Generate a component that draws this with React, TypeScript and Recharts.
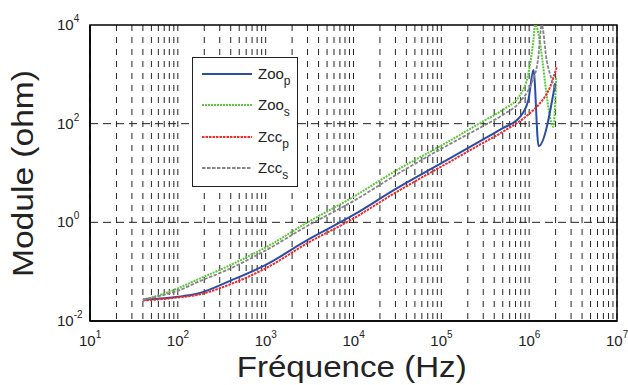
import React from "react";
import {
  LineChart,
  Line,
  XAxis,
  YAxis,
  CartesianGrid,
  ReferenceLine,
  ReferenceArea,
  Legend,
} from "recharts";

// Zoo_p (blue, solid)
const zoopFreq = [40, 70, 100, 170, 400, 1000, 3000, 10000, 30000, 100000, 300000, 500000, 790000, 980000, 1120000, 1280000, 1980000];
const zoopMod = [0.027, 0.029, 0.031, 0.036, 0.066, 0.137, 0.44, 1.41, 4.7, 15.8, 48, 81, 139, 304, 1230, 35, 660];

// Zoo_s (green, dotted)
const zoosFreq = [40, 70, 100, 170, 400, 1000, 3000, 10000, 30000, 100000, 300000, 500000, 790000, 980000, 1120000, 1170000, 1890000, 2030000];
const zoosMod = [0.027, 0.036, 0.046, 0.07, 0.137, 0.31, 1.0, 3.3, 11, 36, 112, 190, 384, 1050, 5000, 10000, 87, 900];

// Zcc_p (red, dotted)
const zccpFreq = [40, 70, 100, 170, 400, 1000, 3000, 10000, 30000, 100000, 300000, 470000, 1120000, 1330000, 1740000, 2070000];
const zccpMod = [0.026, 0.028, 0.03, 0.034, 0.056, 0.117, 0.38, 1.2, 4.0, 13.5, 41, 64, 190, 260, 566, 1440];

// Zcc_s (gray, dashed)
const zccsFreq = [40, 70, 100, 170, 400, 1000, 3000, 10000, 30000, 100000, 300000, 500000, 790000, 1060000, 1260000, 1390000, 1580000, 1810000, 1980000];
const zccsMod = [0.027, 0.034, 0.041, 0.062, 0.117, 0.27, 0.85, 2.7, 9, 31, 90, 150, 282, 660, 1960, 10000, 1960, 780, 490];

const xMajorTicks = [10, 100, 1000, 10000, 100000, 1000000, 10000000];
const xMinorMultipliers = [2, 3, 4, 5, 6, 7, 8, 9];
const yMajorTicks = [0.01, 1, 100, 10000];
const yGridLines = [1, 100];

const legendItems = [
  { base: "Zoo", sub: "p", color: "#2a4ea8", dash: undefined },
  { base: "Zoo", sub: "s", color: "#5cc63a", dash: "2 1" },
  { base: "Zcc", sub: "p", color: "#ee2a2a", dash: "2.5 1" },
  { base: "Zcc", sub: "s", color: "#858585", dash: "3.5 1.5" },
];

const toPoints = (freq: number[], mod: number[]) =>
  freq.map((f, i) => ({ f, v: mod[i] }));

const xTicks: number[] = [];
xMajorTicks.forEach((t, i) => {
  xTicks.push(t);
  if (i < xMajorTicks.length - 1) xMinorMultipliers.forEach((m) => xTicks.push(t * m));
});

const FONT = "'Liberation Sans', Arial, Helvetica, sans-serif";

const XTick = (props: any) => {
  const { x, y, payload } = props;
  const exp = Math.round(Math.log10(payload.value));
  if (!xMajorTicks.includes(payload.value)) return <g />;
  return (
    <text x={x - 11} y={y + 25} fontFamily={FONT} fontSize={15} fill="#222">
      <tspan>10</tspan>
      <tspan dy={-8} fontSize={10}>{exp}</tspan>
    </text>
  );
};

const YTick = (props: any) => {
  const { y, payload } = props;
  const exp = Math.round(Math.log10(payload.value));
  return (
    <text x={57} y={y + 5} fontFamily={FONT} fontSize={15} fill="#222">
      <tspan>10</tspan>
      <tspan dy={-8} fontSize={10}>{exp}</tspan>
    </text>
  );
};

const LegendBox = () => (
  <div
    style={{
      width: 106,
      height: 130,
      border: "1.5px solid #222",
      background: "#fff",
      boxSizing: "border-box",
      fontFamily: FONT,
      position: "relative",
    }}
  >
    {legendItems.map((it, i) => (
      <div key={i} style={{ position: "absolute", left: 8, top: 6 + i * 31.3, height: 24 }}>
        <svg width={52} height={20} style={{ position: "absolute", left: 0, top: 0 }}>
          <line x1={1} y1={10} x2={51} y2={10} stroke={it.color} strokeWidth={2} strokeDasharray={it.dash} />
        </svg>
        <div style={{ position: "absolute", left: 57, top: 1, fontSize: 15, color: "#222", whiteSpace: "nowrap", lineHeight: "18px" }}>
          {it.base}
          <span style={{ fontSize: 12, position: "relative", top: 6 }}>{it.sub}</span>
        </div>
      </div>
    ))}
  </div>
);

export default function App() {
  return (
    <div style={{ position: "absolute", left: 0, top: 0, width: 628, height: 385, background: "#fff" }}>
      <LineChart width={628} height={385} margin={{ top: 25, right: 11, left: 0, bottom: 0 }}>
        <CartesianGrid horizontal={false} stroke="#222" strokeDasharray="6 6" />
        {yGridLines.map((v) => (
          <ReferenceLine key={v} y={v} stroke="#222" strokeDasharray="8 5" />
        ))}
        <XAxis
          dataKey="f"
          type="number"
          scale="log"
          domain={[10, 10000000]}
          ticks={xTicks}
          interval={0}
          allowDataOverflow
          tickLine={false}
          tickSize={0}
          tickMargin={0}
          axisLine={{ stroke: "#000", strokeWidth: 1.5 }}
          height={64}
          tick={<XTick />}
          label={{
            content: () => (
              <text
                x={351.7}
                y={377}
                textAnchor="middle"
                fontFamily={FONT}
                fontSize={29}
                fill="#222"
                textLength={230}
                lengthAdjust="spacingAndGlyphs"
              >
                Fréquence (Hz)
              </text>
            ),
          }}
        />
        <YAxis
          type="number"
          scale="log"
          domain={[0.01, 10000]}
          ticks={yMajorTicks}
          interval={0}
          allowDataOverflow
          tickLine={false}
          tickSize={0}
          tickMargin={0}
          axisLine={{ stroke: "#000", strokeWidth: 1.5 }}
          width={90}
          tick={<YTick />}
          label={{
            content: () => (
              <text
                transform="translate(33,173.5) rotate(-90)"
                textAnchor="middle"
                fontFamily={FONT}
                fontSize={29}
                fill="#222"
                textLength={207}
                lengthAdjust="spacingAndGlyphs"
              >
                Module (ohm)
              </text>
            ),
          }}
        />
        <ReferenceArea x1={10} x2={10000000} y1={0.01} y2={10000} fill="none" stroke="#000" strokeWidth={1.5} />
        <Line data={toPoints(zoosFreq, zoosMod)} dataKey="v" type="monotoneX" stroke="#5cc63a" strokeWidth={2} strokeDasharray="2 1" dot={false} isAnimationActive={false} />
        <Line data={toPoints(zoopFreq, zoopMod)} dataKey="v" type="monotoneX" stroke="#2a4ea8" strokeWidth={2} dot={false} isAnimationActive={false} />
        <Line data={toPoints(zccpFreq, zccpMod)} dataKey="v" type="monotoneX" stroke="#ee2a2a" strokeWidth={2} strokeDasharray="2.5 1" dot={false} isAnimationActive={false} />
        <Line data={toPoints(zccsFreq, zccsMod)} dataKey="v" type="monotoneX" stroke="#858585" strokeWidth={1.8} strokeDasharray="3.5 1.5" dot={false} isAnimationActive={false} />
        <Legend
          layout="vertical"
          align="center"
          verticalAlign="middle"
          content={() => <LegendBox />}
          wrapperStyle={{ position: "absolute", left: 192, top: 57, width: 106, height: 130 }}
        />
      </LineChart>
    </div>
  );
}
